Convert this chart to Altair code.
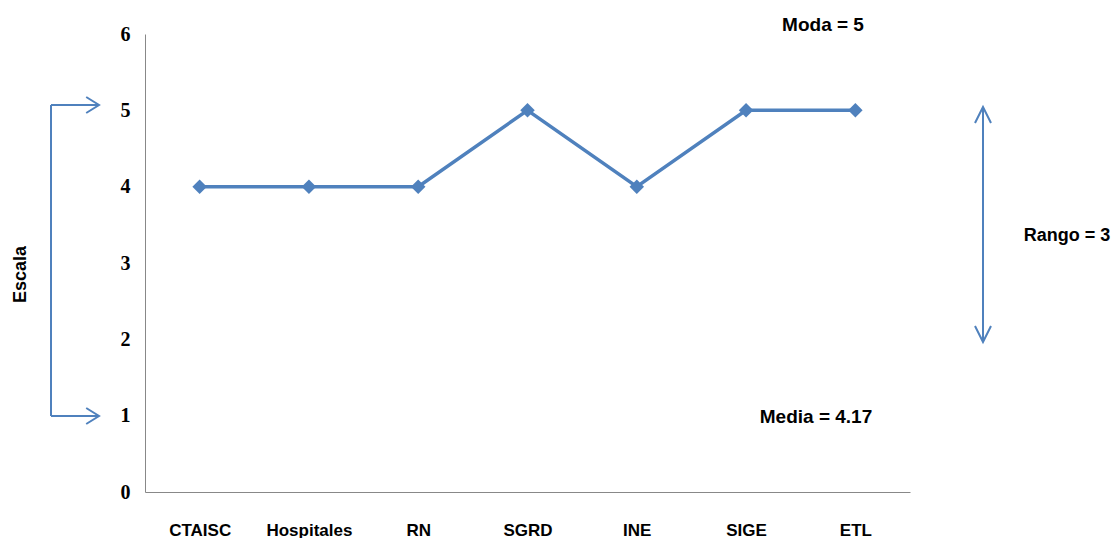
import altair as alt
import pandas as pd

categories = ["CTAISC", "Hospitales", "RN", "SGRD", "INE", "SIGE", "ETL"]
values = [4, 4, 4, 5, 4, 5, 5]
y_ticks = [0, 1, 2, 3, 4, 5, 6]

BLUE = "#4F81BD"
SANS = "Liberation Sans Narrow, Arial Narrow, Liberation Sans, sans-serif"
SERIF = "Liberation Serif, Times New Roman, serif"

df = pd.DataFrame({"cat": categories, "val": values})
one = alt.Data(values=[{}])

x_enc = alt.X("cat:N", sort=categories,
              scale=alt.Scale(type="point", padding=0.5),
              axis=alt.Axis(title=None, labelAngle=0, ticks=False, labelPadding=30,
                            labelFont=SANS, labelFontSize=17, labelFontWeight="bold",
                            labelColor="black", domainColor="#888888", domainWidth=1))
y_enc = alt.Y("val:Q", scale=alt.Scale(domain=[0, 6], nice=False),
              axis=alt.Axis(values=y_ticks, format="d", ticks=False, grid=False, labelPadding=15,
                            labelFont=SERIF, labelFontSize=20, labelFontWeight="bold",
                            labelColor="black", domainColor="#888888", domainWidth=1,
                            title="Escala", titleFont=SANS, titleFontSize=18,
                            titleFontWeight="bold", titleColor="black",
                            titleAngle=270, titleX=-125, titleY=240,
                            titleAlign="center", titleBaseline="middle"))

line = alt.Chart(df).mark_line(color=BLUE, strokeWidth=3.5).encode(x=x_enc, y=y_enc)
pts = alt.Chart(df).mark_point(shape="diamond", filled=True, color=BLUE, size=210, opacity=1).encode(
    x=alt.X("cat:N", sort=categories), y="val:Q")

def rule(x, y, x2=None, y2=None):
    enc = dict(x=alt.value(x), y=alt.value(y))
    if x2 is not None:
        enc["x2"] = alt.value(x2)
    if y2 is not None:
        enc["y2"] = alt.value(y2)
    return alt.Chart(one).mark_rule(color=BLUE, strokeWidth=2).encode(**enc)

def head(x, y, shape):
    return alt.Chart(one).mark_point(shape=shape, filled=False, color=BLUE, strokeWidth=2,
                                     size=256, opacity=1).encode(x=alt.value(x), y=alt.value(y))

def label(x, y, txt, size=18):
    return alt.Chart(one).mark_text(text=txt, font=SANS, fontSize=size, fontWeight="bold",
                                    color="black", align="center", baseline="middle").encode(
        x=alt.value(x), y=alt.value(y))

RIGHT = "M-1.6,-1L0,0L-1.6,1"
UP = "M-1,2L0,0L1,2"
DOWN = "M-1,-2L0,0L1,-2"

layers = [
    line, pts,
    # left bracket
    rule(-94, 71, y2=382),
    rule(-94, 71, x2=-47),
    rule(-94, 382, x2=-47),
    head(-46, 71, RIGHT),
    head(-46, 382, RIGHT),
    # right double arrow
    rule(838, 74, y2=307),
    head(838, 73, UP),
    head(838, 308, DOWN),
    label(678, -9, "Moda = 5", 19),
    label(922, 202, "Rango = 3", 18),
    label(671, 383, "Media = 4.17", 19),
]

chart = alt.layer(*layers).properties(
    width=765, height=458,
    autosize=alt.AutoSizeParams(type="none"),
    padding={"left": 145, "top": 34, "right": 206, "bottom": 46},
    background="white",
).configure_view(stroke=None)

chart.save("out.html", embed_options={"renderer": "svg", "actions": False})
